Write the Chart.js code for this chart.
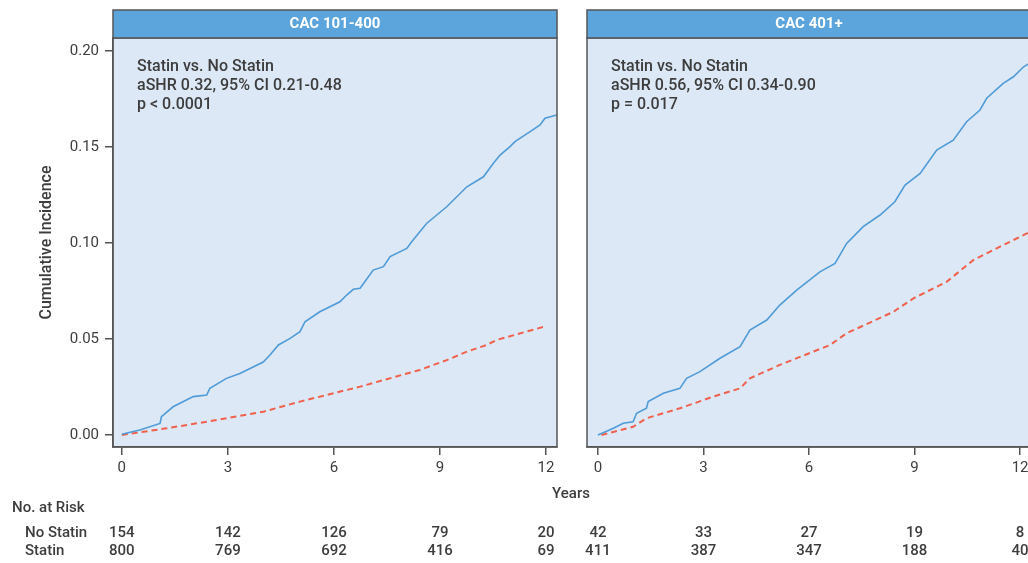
<!DOCTYPE html>
<html>
<head>
<meta charset="utf-8">
<script src="https://cdn.jsdelivr.net/npm/chart.js@4.4.0/dist/chart.umd.min.js"></script>
<style>
  html, body { margin: 0; padding: 0; background: #fff; overflow: hidden; width: 1028px; height: 563px; }
  canvas { position: absolute; top: 0; }
  #years { position: absolute; left: 546px; top: 484px; width: 50px; text-align: center;
           font: 500 15px Roboto, sans-serif; color: #3d3d3d; z-index: 2; }
</style>
</head>
<body>
<canvas id="left" width="580" height="563" style="left:0"></canvas>
<canvas id="right" width="460" height="563" style="left:580px"></canvas>
<div id="years">Years</div>
<script>
// ticks + labels
const xTicks = [0, 3, 6, 9, 12];
const yTicks = [0, 0.05, 0.10, 0.15, 0.20];
const groupLabels = ['No Statin', 'Statin'];

// CAC 101-400 (years, cumulative incidence)
const lowNoStatinT = [0, 0.51, 1.08, 1.12, 1.45, 2.02, 2.4, 2.49, 2.96, 3.34, 4.0, 4.19, 4.43, 4.76, 5.04, 5.18, 5.6, 6.17, 6.36, 6.55, 6.74, 7.11, 7.4, 7.59, 8.06, 8.2, 8.62, 9.19, 9.76, 10.23, 10.51, 10.7, 10.98, 11.12, 11.55, 11.83, 11.97, 12.3];
const lowNoStatinV = [0.0004, 0.0026, 0.006, 0.0095, 0.0147, 0.020, 0.0208, 0.0243, 0.0295, 0.032, 0.038, 0.0417, 0.0469, 0.0503, 0.0538, 0.059, 0.0642, 0.0694, 0.0729, 0.0759, 0.0764, 0.0859, 0.0877, 0.0929, 0.0972, 0.1007, 0.1102, 0.1189, 0.1293, 0.1345, 0.1415, 0.1458, 0.1502, 0.1528, 0.158, 0.1615, 0.165, 0.1667];
const lowStatinT = [0, 1.27, 2.4, 4.0, 5.04, 6.74, 8.43, 9.19, 9.76, 10.32, 10.6, 12.02];
const lowStatinV = [0, 0.0035, 0.0069, 0.0121, 0.0174, 0.0252, 0.0339, 0.039, 0.0434, 0.0469, 0.0495, 0.0568];
const lowRiskNoStatin = [154, 142, 126, 79, 20];
const lowRiskStatin = [800, 769, 692, 416, 69];

// CAC 401+
const highNoStatinT = [0, 0.44, 0.72, 1.0, 1.1, 1.38, 1.43, 1.86, 2.33, 2.52, 2.9, 3.47, 4.04, 4.32, 4.8, 5.17, 5.65, 6.31, 6.74, 7.07, 7.54, 8.02, 8.44, 8.73, 9.16, 9.63, 10.1, 10.48, 10.86, 11.05, 11.52, 11.81, 12.1, 12.3];
const highNoStatinV = [0, 0.0035, 0.0061, 0.0069, 0.0113, 0.0139, 0.0174, 0.0217, 0.0243, 0.0295, 0.033, 0.040, 0.046, 0.0547, 0.0599, 0.0677, 0.0755, 0.085, 0.0894, 0.0998, 0.1085, 0.1146, 0.1215, 0.1302, 0.1363, 0.1484, 0.1536, 0.1632, 0.1693, 0.1754, 0.1832, 0.1866, 0.1918, 0.194];
const highStatinT = [0.1, 1.0, 1.38, 2.33, 3.28, 4.04, 4.32, 5.17, 6.6, 7.07, 8.4, 8.97, 9.91, 10.67, 11.43, 12.3];
const highStatinV = [0, 0.0043, 0.0087, 0.0139, 0.020, 0.0243, 0.0295, 0.0365, 0.0469, 0.053, 0.0642, 0.0712, 0.0798, 0.0911, 0.0981, 0.106];
const highRiskNoStatin = [42, 33, 27, 19, 8];
const highRiskStatin = [411, 387, 347, 188, 40];

const TEXT = '#3d3d3d';
const AXIS = '#555';
const FONT = 'Roboto, sans-serif';

function pts(ts, vs) {
    return ts.map((t, i) => ({ x: t, y: vs[i] }));
}

// header bar, frame, notes, risk table
const panelPlugin = {
    id: 'panel',
    beforeDraw(chart, args, opts) {
        const { ctx, chartArea: a } = chart;
        ctx.save();
        ctx.fillStyle = '#dce8f5';
        ctx.fillRect(a.left, a.top, a.right - a.left, a.bottom - a.top);
        ctx.restore();
    },
    afterDraw(chart, args, opts) {
        const { ctx, chartArea: a, scales } = chart;
        ctx.save();
        // frame
        ctx.strokeStyle = AXIS;
        ctx.lineWidth = 1.5;
        ctx.strokeRect(a.left, a.top, a.right - a.left, a.bottom - a.top);
        // header
        ctx.fillStyle = '#5ba5dc';
        ctx.fillRect(a.left, 10, a.right - a.left, a.top - 10);
        ctx.strokeRect(a.left, 10, a.right - a.left, a.top - 10);
        ctx.fillStyle = '#fff';
        ctx.font = 'bold 15px ' + FONT;
        ctx.textAlign = 'center';
        ctx.textBaseline = 'middle';
        const mid = opts.titleX != null ? opts.titleX : (a.left + a.right) / 2;
        ctx.fillText(opts.title, mid, 24);
        // notes
        ctx.fillStyle = TEXT;
        ctx.font = '500 16px ' + FONT;
        ctx.textAlign = 'left';
        opts.notes.forEach((s, i) => ctx.fillText(s, a.left + 24, 67 + i * 19));
        // risk table
        ctx.font = '500 15px ' + FONT;
        ctx.textAlign = 'center';
        const x = scales.x;
        xTicks.forEach((t, i) => {
            ctx.fillText(String(opts.risk[0][i]), x.getPixelForValue(t), 533);
            ctx.fillText(String(opts.risk[1][i]), x.getPixelForValue(t), 551);
        });
        if (opts.rowLabels) {
            ctx.textAlign = 'left';
            ctx.fillText('No. at Risk', 12, 508);
            ctx.fillText(groupLabels[0], 25, 533);
            ctx.fillText(groupLabels[1], 25, 551);
            // y title
            ctx.translate(47, (a.top + a.bottom) / 2);
            ctx.rotate(-Math.PI / 2);
            ctx.textAlign = 'center';
            ctx.font = '500 16px ' + FONT;
            ctx.fillText('Cumulative Incidence', 0, 0);
        }
        ctx.restore();
    }
};

function makeChart(id, cfg) {
    return new Chart(document.getElementById(id), {
        type: 'line',
        data: {
            datasets: [
                {
                    label: groupLabels[0],
                    data: pts(cfg.noT, cfg.noV),
                    borderColor: '#4f9bd8',
                    borderWidth: 1.6,
                    pointRadius: 0,
                    tension: 0
                },
                {
                    label: groupLabels[1],
                    data: pts(cfg.stT, cfg.stV),
                    borderColor: '#f0604d',
                    borderWidth: 2,
                    borderDash: [6, 4],
                    pointRadius: 0,
                    tension: 0
                }
            ]
        },
        options: {
            responsive: false,
            animation: false,
            devicePixelRatio: 1,
            layout: { padding: cfg.padding },
            plugins: {
                legend: { display: false },
                tooltip: { enabled: false },
                panel: {
                    title: cfg.title,
                    titleX: cfg.titleX,
                    notes: cfg.notes,
                    risk: cfg.risk,
                    rowLabels: cfg.rowLabels
                }
            },
            scales: {
                x: {
                    type: 'linear',
                    min: cfg.xMin,
                    max: cfg.xMax,
                    afterBuildTicks: s => { s.ticks = xTicks.map(v => ({ value: v })); },
                    afterFit: s => { s.height = 30; },
                    grid: { drawOnChartArea: false, color: AXIS, lineWidth: 1.5, tickLength: 8 },
                    border: { color: AXIS, width: 1.5 },
                    ticks: { color: TEXT, font: { size: 15, family: FONT }, padding: 4, maxRotation: 0 }
                },
                y: {
                    display: cfg.showY,
                    min: -0.00625,
                    max: 0.2068,
                    afterBuildTicks: s => { s.ticks = yTicks.map(v => ({ value: v })); },
                    afterFit: s => { s.width = cfg.showY ? 113 : 0; },
                    grid: { drawOnChartArea: false, color: AXIS, lineWidth: 1.5, tickLength: 8 },
                    border: { color: AXIS, width: 1.5 },
                    ticks: {
                        color: TEXT,
                        font: { size: 15, family: FONT },
                        padding: 6,
                        callback: v => v.toFixed(2)
                    }
                }
            }
        },
        plugins: [panelPlugin]
    });
}

makeChart('left', {
    title: 'CAC 101-400',
    notes: ['Statin vs. No Statin', 'aSHR 0.32, 95% CI 0.21-0.48', 'p < 0.0001'],
    noT: lowNoStatinT, noV: lowNoStatinV,
    stT: lowStatinT, stV: lowStatinV,
    risk: [lowRiskNoStatin, lowRiskStatin],
    rowLabels: true,
    showY: true,
    xMin: -0.25, xMax: 12.31,
    padding: { left: 0, right: 23, top: 38, bottom: 86 }
});

makeChart('right', {
    title: 'CAC 401+',
    titleX: 229,
    notes: ['Statin vs. No Statin', 'aSHR 0.56, 95% CI 0.34-0.90', 'p = 0.017'],
    noT: highNoStatinT, noV: highNoStatinV,
    stT: highStatinT, stV: highStatinV,
    risk: [highRiskNoStatin, highRiskStatin],
    rowLabels: false,
    showY: false,
    xMin: -0.31, xMax: 12.31,
    padding: { left: 7, right: 9, top: 38, bottom: 86 }
});
</script>
</body>
</html>
